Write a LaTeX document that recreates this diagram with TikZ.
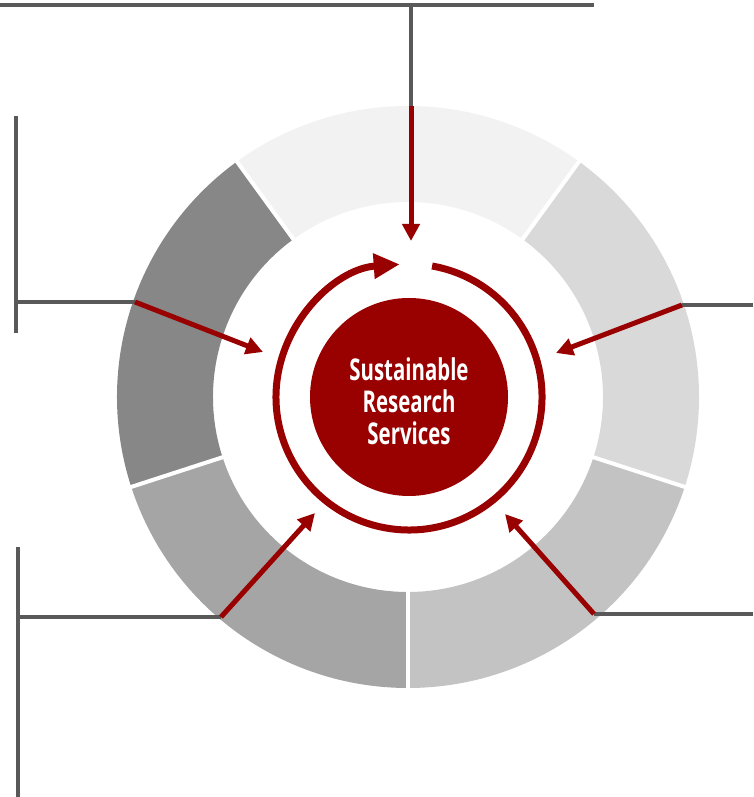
\documentclass[tikz,border=0pt]{standalone}
\usepackage{fontspec}
\newfontfamily\corefont[FakeStretch=0.68]{Open Sans}
\usetikzlibrary{arrows.meta,calc}
\definecolor{corered}{HTML}{990000}
\definecolor{leadgray}{HTML}{595959}
\definecolor{segA}{HTML}{F2F2F2}
\definecolor{segB}{HTML}{878787}
\definecolor{segC}{HTML}{A5A5A5}
\definecolor{segD}{HTML}{C3C3C3}
\definecolor{segE}{HTML}{D9D9D9}
\tikzset{
  lead/.style={draw=leadgray, line width=4.5pt},
  pointer/.style={draw=corered, line width=5pt, -{Triangle[length=17pt,width=17pt]}},
  cycler/.style={draw=corered, line width=7pt, -{Triangle[length=26pt,width=24pt]}},
  gapline/.style={draw=white, line width=4pt},
}
\begin{document}
\begin{tikzpicture}[x=1pt,y=1pt]
\useasboundingbox (0,0) rectangle (753,797);
\coordinate (c) at (408,400);
\def\Rout{291}
\def\Rin{195}
% ring segments, 72 degrees each
\foreach \a/\col in {54/segA,126/segB,198/segC,270/segD,342/segE}{
  \fill[\col] ($(c)+(\a:\Rout)$) arc[start angle=\a, end angle=\a+72, radius=\Rout]
    -- ($(c)+(\a+72:\Rin)$) arc[start angle=\a+72, end angle=\a, radius=\Rin] -- cycle;
}
\foreach \a in {54,126,198,270,342}{
  \draw[gapline] ($(c)+(\a:\Rin-2)$) -- ($(c)+(\a:\Rout+2)$);
}
% centre disc
\node[circle, fill=corered, minimum size=198pt, inner sep=0pt] (core) at (409,400) {};
\node[text=white, align=center, inner sep=0pt,
      font=\corefont\bfseries\fontsize{30}{32}\selectfont] (title) at (409,396)
  {Sustainable\\Research\\Services};
% cycle arrow round the disc
\draw[cycler] ($(core.center)+(80:133)$) arc[start angle=80, end angle=-266, radius=133];
% leader line end points
\coordinate (tL) at (0,792);
\coordinate (tR) at (594,792);
\coordinate (tJ) at (411,792);
\coordinate (tE) at (411,691);
\coordinate (tT) at (411,556);
\coordinate (luA) at (16,681);
\coordinate (luB) at (16,464);
\coordinate (luJ) at (16,495);
\coordinate (luE) at (135,495);
\coordinate (luT) at (263,445);
\coordinate (ruE) at (682,492);
\coordinate (ruO) at (753,492);
\coordinate (ruT) at (556,444);
\coordinate (llA) at (18,250);
\coordinate (llB) at (18,0);
\coordinate (llJ) at (16,180);
\coordinate (llE) at (221,180);
\coordinate (llT) at (315,284);
\coordinate (rlE) at (594,183);
\coordinate (rlO) at (753,183);
\coordinate (rlT) at (505,283);
% gray leaders
\draw[lead] (tL) -- (tR);
\draw[lead] (tJ) -- (tE);
\draw[lead] (luA) -- (luB);
\draw[lead] (luJ) -- (luE);
\draw[lead] (ruE) -- (ruO);
\draw[lead] (llA) -- (llB);
\draw[lead] (llJ) -- (llE);
\draw[lead] (rlE) -- (rlO);
% red pointers
\draw[pointer] (tE) -- (tT);
\draw[pointer] (luE) -- (luT);
\draw[pointer] (ruE) -- (ruT);
\draw[pointer] (llE) -- (llT);
\draw[pointer] (rlE) -- (rlT);
\end{tikzpicture}
\end{document}
